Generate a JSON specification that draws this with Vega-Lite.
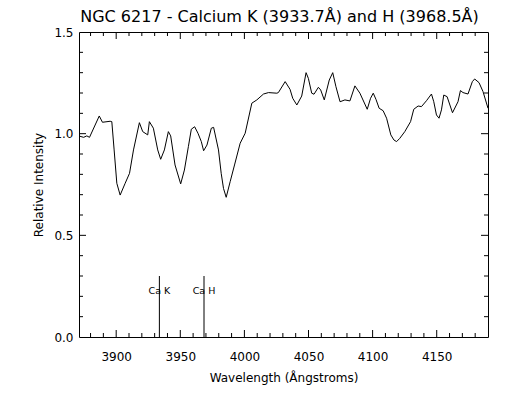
{
  "$schema": "https://vega.github.io/schema/vega-lite/v6.json",
  "width": 409,
  "height": 305,
  "autosize": "none",
  "padding": {"left": 79, "top": 32, "right": 24, "bottom": 63},
  "background": "white",
  "config": {
    "font": "DejaVu Sans",
    "view": {"stroke": "black", "strokeWidth": 1},
    "axis": {"grid": false, "domain": false, "labelColor": "black", "titleColor": "black", "labelFont": "DejaVu Sans", "titleFont": "DejaVu Sans", "labelFontSize": 12, "titleFontSize": 12, "titleFontWeight": "normal"}
  },
  "title": {"text": "NGC 6217 - Calcium K (3933.7Å) and H (3968.5Å)", "fontSize": 16, "fontWeight": "normal", "font": "DejaVu Sans", "color": "black", "anchor": "middle", "offset": 1, "dx": -4},
  "datasets": {
    "spec": [
      {"wl": 3870.7, "flux": 0.989}, {"wl": 3874.6, "flux": 0.982}, {"wl": 3877.1, "flux": 0.989}, {"wl": 3879.2, "flux": 0.982},
      {"wl": 3886.8, "flux": 1.087}, {"wl": 3889.3, "flux": 1.056}, {"wl": 3895.3, "flux": 1.061}, {"wl": 3896.6, "flux": 1.059},
      {"wl": 3898.4, "flux": 0.920}, {"wl": 3900.5, "flux": 0.756}, {"wl": 3903.1, "flux": 0.698}, {"wl": 3907.0, "flux": 0.756},
      {"wl": 3910.4, "flux": 0.805}, {"wl": 3913.5, "flux": 0.920}, {"wl": 3918.1, "flux": 1.054}, {"wl": 3920.7, "flux": 1.010},
      {"wl": 3924.6, "flux": 0.994}, {"wl": 3925.9, "flux": 1.059}, {"wl": 3929.0, "flux": 1.027}, {"wl": 3932.4, "flux": 0.920},
      {"wl": 3934.7, "flux": 0.874}, {"wl": 3937.6, "flux": 0.920}, {"wl": 3940.7, "flux": 1.010}, {"wl": 3942.5, "flux": 0.989},
      {"wl": 3945.9, "flux": 0.846}, {"wl": 3950.3, "flux": 0.753}, {"wl": 3953.2, "flux": 0.821}, {"wl": 3956.3, "flux": 0.936},
      {"wl": 3958.6, "flux": 1.022}, {"wl": 3961.2, "flux": 1.034}, {"wl": 3963.8, "flux": 1.002}, {"wl": 3966.4, "flux": 0.961},
      {"wl": 3968.2, "flux": 0.916}, {"wl": 3970.8, "flux": 0.944}, {"wl": 3974.2, "flux": 1.027}, {"wl": 3976.0, "flux": 1.031},
      {"wl": 3979.8, "flux": 0.920}, {"wl": 3981.9, "flux": 0.805}, {"wl": 3983.7, "flux": 0.731}, {"wl": 3985.8, "flux": 0.687},
      {"wl": 3988.9, "flux": 0.764}, {"wl": 3992.3, "flux": 0.846}, {"wl": 3996.7, "flux": 0.953}, {"wl": 4000.6, "flux": 1.002},
      {"wl": 4005.8, "flux": 1.150}, {"wl": 4009.7, "flux": 1.166}, {"wl": 4014.9, "flux": 1.195}, {"wl": 4018.8, "flux": 1.202},
      {"wl": 4025.3, "flux": 1.199}, {"wl": 4026.5, "flux": 1.202}, {"wl": 4031.8, "flux": 1.256}, {"wl": 4035.6, "flux": 1.218},
      {"wl": 4037.7, "flux": 1.174}, {"wl": 4040.9, "flux": 1.141}, {"wl": 4044.7, "flux": 1.185}, {"wl": 4048.1, "flux": 1.300},
      {"wl": 4049.9, "flux": 1.272}, {"wl": 4052.5, "flux": 1.199}, {"wl": 4054.3, "flux": 1.194}, {"wl": 4057.7, "flux": 1.228},
      {"wl": 4059.5, "flux": 1.215}, {"wl": 4062.3, "flux": 1.166}, {"wl": 4066.2, "flux": 1.264}, {"wl": 4068.9, "flux": 1.300},
      {"wl": 4071.4, "flux": 1.231}, {"wl": 4074.6, "flux": 1.157}, {"wl": 4078.4, "flux": 1.166}, {"wl": 4082.3, "flux": 1.161},
      {"wl": 4086.2, "flux": 1.235}, {"wl": 4090.1, "flux": 1.199}, {"wl": 4095.8, "flux": 1.120}, {"wl": 4098.4, "flux": 1.174},
      {"wl": 4100.5, "flux": 1.199}, {"wl": 4102.6, "flux": 1.169}, {"wl": 4105.1, "flux": 1.125}, {"wl": 4108.2, "flux": 1.113},
      {"wl": 4110.9, "flux": 1.076}, {"wl": 4114.2, "flux": 0.994}, {"wl": 4116.6, "flux": 0.969}, {"wl": 4118.7, "flux": 0.961},
      {"wl": 4121.2, "flux": 0.977}, {"wl": 4125.1, "flux": 1.010}, {"wl": 4129.6, "flux": 1.059}, {"wl": 4132.1, "flux": 1.120},
      {"wl": 4135.5, "flux": 1.136}, {"wl": 4138.1, "flux": 1.133}, {"wl": 4142.0, "flux": 1.162}, {"wl": 4145.9, "flux": 1.195},
      {"wl": 4147.7, "flux": 1.157}, {"wl": 4149.8, "flux": 1.092}, {"wl": 4151.8, "flux": 1.076}, {"wl": 4153.7, "flux": 1.117},
      {"wl": 4155.5, "flux": 1.190}, {"wl": 4158.1, "flux": 1.182}, {"wl": 4162.3, "flux": 1.103}, {"wl": 4166.6, "flux": 1.157},
      {"wl": 4168.5, "flux": 1.212}, {"wl": 4170.5, "flux": 1.202}, {"wl": 4174.4, "flux": 1.195}, {"wl": 4177.8, "flux": 1.256},
      {"wl": 4179.6, "flux": 1.269}, {"wl": 4183.0, "flux": 1.251}, {"wl": 4186.1, "flux": 1.207}, {"wl": 4190.0, "flux": 1.125}
    ],
    "lines": [
      {"wl": 3933.7, "y0": 0, "y1": 0.3, "label": "Ca K", "ly": 0.226},
      {"wl": 3968.5, "y0": 0, "y1": 0.3, "label": "Ca H", "ly": 0.226}
    ],
    "xmaj": [{"v": 3900}, {"v": 3950}, {"v": 4000}, {"v": 4050}, {"v": 4100}, {"v": 4150}],
    "xmin": [{"v": 3880}, {"v": 3890}, {"v": 3910}, {"v": 3920}, {"v": 3930}, {"v": 3940}, {"v": 3960}, {"v": 3970}, {"v": 3980}, {"v": 3990}, {"v": 4010}, {"v": 4020}, {"v": 4030}, {"v": 4040}, {"v": 4060}, {"v": 4070}, {"v": 4080}, {"v": 4090}, {"v": 4110}, {"v": 4120}, {"v": 4130}, {"v": 4140}, {"v": 4160}, {"v": 4170}, {"v": 4180}],
    "ymaj": [{"v": 0.5}, {"v": 1.0}],
    "ymin": [{"v": 0.1}, {"v": 0.2}, {"v": 0.3}, {"v": 0.4}, {"v": 0.6}, {"v": 0.7}, {"v": 0.8}, {"v": 0.9}, {"v": 1.1}, {"v": 1.2}, {"v": 1.3}, {"v": 1.4}]
  },
  "layer": [
    {
      "data": {"name": "spec"},
      "mark": {"type": "line", "color": "black", "strokeWidth": 1, "clip": true},
      "encoding": {
        "x": {"field": "wl", "type": "quantitative", "scale": {"domain": [3871, 4190], "nice": false, "zero": false},
              "axis": {"orient": "bottom", "values": [3900, 3950, 4000, 4050, 4100, 4150], "format": "d", "tickSize": 0, "labelPadding": 14, "title": "Wavelength (Ångstroms)", "titlePadding": 10}},
        "y": {"field": "flux", "type": "quantitative", "scale": {"domain": [0, 1.5], "nice": false, "zero": false},
              "axis": {"orient": "left", "values": [0, 0.5, 1, 1.5], "format": ".1f", "tickSize": 0, "labelPadding": 6, "title": "Relative Intensity", "titlePadding": 8}}
      }
    },
    {
      "data": {"name": "lines"},
      "mark": {"type": "rule", "color": "black", "strokeWidth": 1},
      "encoding": {
        "x": {"field": "wl", "type": "quantitative"},
        "y": {"field": "y0", "type": "quantitative"},
        "y2": {"field": "y1"}
      }
    },
    {
      "data": {"name": "lines"},
      "mark": {"type": "text", "color": "black", "fontSize": 9.5, "font": "DejaVu Sans", "align": "center", "baseline": "middle"},
      "encoding": {
        "x": {"field": "wl", "type": "quantitative"},
        "y": {"field": "ly", "type": "quantitative"},
        "text": {"field": "label"}
      }
    },
    {
      "data": {"name": "xmaj"},
      "mark": {"type": "tick", "orient": "vertical", "color": "black", "opacity": 1, "thickness": 1, "clip": true},
      "encoding": {"x": {"field": "v", "type": "quantitative"}, "y": {"datum": 0, "type": "quantitative"}, "size": {"value": 14}}
    },
    {
      "data": {"name": "xmaj"},
      "mark": {"type": "tick", "orient": "vertical", "color": "black", "opacity": 1, "thickness": 1, "clip": true},
      "encoding": {"x": {"field": "v", "type": "quantitative"}, "y": {"datum": 1.5, "type": "quantitative"}, "size": {"value": 14}}
    },
    {
      "data": {"name": "xmin"},
      "mark": {"type": "tick", "orient": "vertical", "color": "black", "opacity": 1, "thickness": 1, "clip": true},
      "encoding": {"x": {"field": "v", "type": "quantitative"}, "y": {"datum": 0, "type": "quantitative"}, "size": {"value": 8}}
    },
    {
      "data": {"name": "xmin"},
      "mark": {"type": "tick", "orient": "vertical", "color": "black", "opacity": 1, "thickness": 1, "clip": true},
      "encoding": {"x": {"field": "v", "type": "quantitative"}, "y": {"datum": 1.5, "type": "quantitative"}, "size": {"value": 8}}
    },
    {
      "data": {"name": "ymaj"},
      "mark": {"type": "tick", "orient": "horizontal", "color": "black", "opacity": 1, "thickness": 1, "clip": true},
      "encoding": {"y": {"field": "v", "type": "quantitative"}, "x": {"datum": 3871, "type": "quantitative"}, "size": {"value": 14}}
    },
    {
      "data": {"name": "ymaj"},
      "mark": {"type": "tick", "orient": "horizontal", "color": "black", "opacity": 1, "thickness": 1, "clip": true},
      "encoding": {"y": {"field": "v", "type": "quantitative"}, "x": {"datum": 4190, "type": "quantitative"}, "size": {"value": 14}}
    },
    {
      "data": {"name": "ymin"},
      "mark": {"type": "tick", "orient": "horizontal", "color": "black", "opacity": 1, "thickness": 1, "clip": true},
      "encoding": {"y": {"field": "v", "type": "quantitative"}, "x": {"datum": 3871, "type": "quantitative"}, "size": {"value": 8}}
    },
    {
      "data": {"name": "ymin"},
      "mark": {"type": "tick", "orient": "horizontal", "color": "black", "opacity": 1, "thickness": 1, "clip": true},
      "encoding": {"y": {"field": "v", "type": "quantitative"}, "x": {"datum": 4190, "type": "quantitative"}, "size": {"value": 8}}
    }
  ]
}
